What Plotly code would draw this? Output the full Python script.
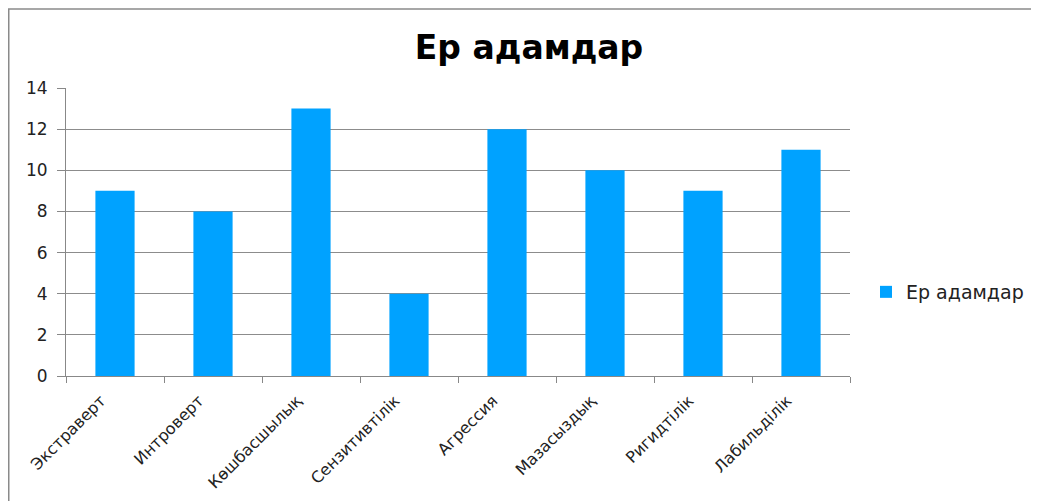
import plotly.graph_objects as go

categories = ["Экстраверт", "Интроверт", "Көшбасшылық", "Сензитивтілік",
              "Агрессия", "Мазасыздық", "Ригидтілік", "Лабильділік"]
values = [9, 8, 13, 4, 12, 10, 9, 11]
series_name = "Ер адамдар"
title_text = "Ер адамдар"
y_ticks = [0, 2, 4, 6, 8, 10, 12, 14]

# the page body adds an 8px offset, so layout coordinates are page coords minus 8
W, H = 1039, 501
ml, mt = 58, 80
pw, ph = 784, 288
mr, mb = W - ml - pw, H - mt - ph

FONT = "DejaVu Sans, Liberation Sans, Arial, sans-serif"

fig = go.Figure()
fig.add_trace(go.Bar(x=categories, y=values, name=series_name,
                     marker=dict(color="#00A2FF", line=dict(width=0)),
                     showlegend=True))

fig.update_layout(
    width=W, height=H,
    margin=dict(l=ml, r=mr, t=mt, b=mb, autoexpand=False),
    paper_bgcolor="white", plot_bgcolor="white",
    font=dict(family=FONT, color="#222222", size=16),
    title=dict(text="<b>" + title_text + "</b>", x=521 / W, xref="container",
               y=1 - 39 / H, yref="container", xanchor="center", yanchor="middle",
               font=dict(size=33, color="#000000", family=FONT)),
    bargap=0.6,
    showlegend=True,
    legend=dict(x=(858 - ml) / pw, y=1 - (284 - mt) / ph, xanchor="left", yanchor="middle",
                font=dict(size=19, color="#222222"), itemwidth=30,
                bgcolor="rgba(0,0,0,0)"),
    xaxis=dict(showline=True, linecolor="#888888", linewidth=1,
               ticks="outside", tickson="boundaries", ticklen=6, tickcolor="#888888",
               tickangle=-45, showgrid=False, tickfont=dict(size=16),
               ticklabelshift=-14, ticklabelstandoff=8),
    yaxis=dict(range=[0, 14], tickvals=y_ticks, showline=True, linecolor="#888888",
               linewidth=1, ticks="outside", ticklen=8, tickcolor="#888888",
               showgrid=True, gridcolor="#8c8c8c", gridwidth=1, zeroline=False,
               tickfont=dict(size=17), ticklabelstandoff=6),
    shapes=[dict(type="rect", xref="paper", yref="paper",
                 x0=(0.75 - ml) / pw, x1=(1100 - ml) / pw,
                 y0=1 - (560 - mt) / ph, y1=1 + (mt - 1) / ph,
                 line=dict(color="#8a8a8a", width=1.5), layer="below")],
)

fig.write_html("out.html")
